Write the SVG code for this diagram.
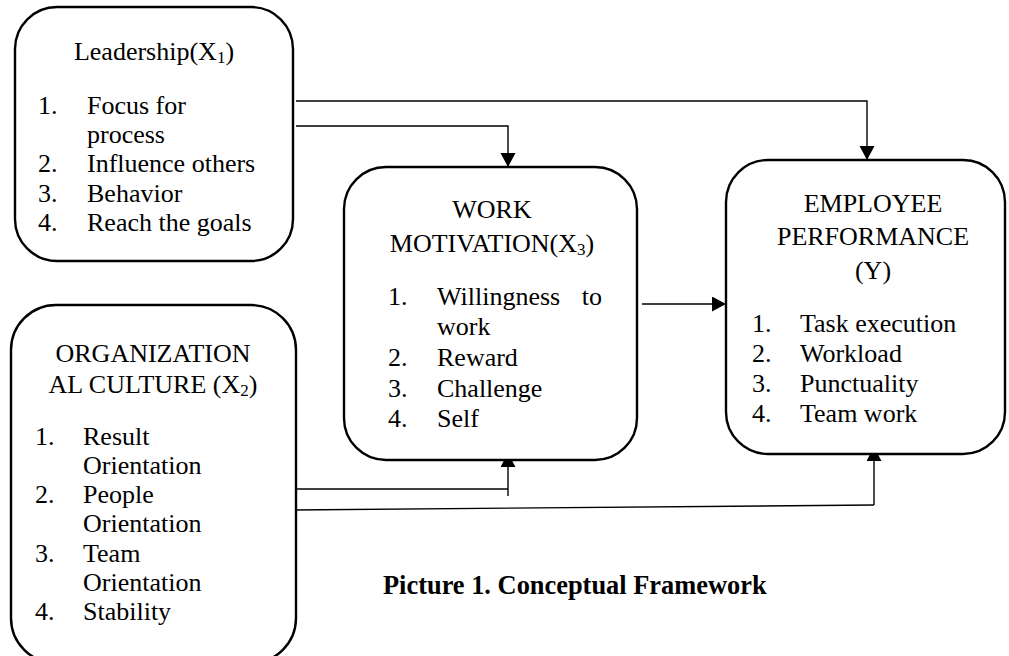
<svg xmlns="http://www.w3.org/2000/svg" width="1009" height="656" viewBox="0 0 1009 656" font-family="'Liberation Serif', 'Times New Roman', serif">
<defs>
<style>
.box{fill:#fff;stroke:#000;stroke-width:2.4}
text{font-family:'Liberation Serif','Times New Roman',serif;font-size:26px;fill:#000}
.c{text-anchor:middle}
.e{text-anchor:end}
.ln{fill:none;stroke:#000;stroke-width:1.4}
.cap{font-size:26.4px;font-weight:bold}
</style>
<marker id="ah" markerUnits="userSpaceOnUse" markerWidth="16" markerHeight="16" refX="14" refY="7.5" orient="auto">
<path d="M0,0 L14,7.5 L0,15 Z" fill="#000"/>
</marker>
<clipPath id="clipL"><rect x="15" y="7" width="278" height="229"/></clipPath>
</defs>
<rect width="1009" height="656" fill="#fff"/>

<g id="connectors">
<path class="ln" d="M296,101 H867 V160" marker-end="url(#ah)"/>
<path class="ln" d="M296,126 H508 V167" marker-end="url(#ah)"/>
<path class="ln" d="M642,304 H726" marker-end="url(#ah)"/>
<path class="ln" d="M297,489 H508"/>
<path class="ln" d="M508,496 V453" marker-end="url(#ah)"/>
<path class="ln" d="M292,510 L874,505"/>
<path class="ln" d="M874,505 V447" marker-end="url(#ah)"/>
</g>

<g id="leadership">
<rect class="box" x="15" y="7" width="278" height="254" rx="42" ry="42"/>
<text class="c" x="154" y="60">Leadership(X<tspan font-size="17" dy="3">1</tspan><tspan dy="-3">)</tspan></text>
<g clip-path="url(#clipL)">
<text x="38" y="114">1.</text><text x="87" y="114">Focus for</text>
<text x="87" y="143">process</text>
<text x="38" y="172">2.</text><text x="87" y="172">Influence others</text>
<text x="38" y="202">3.</text><text x="87" y="202">Behavior</text>
<text x="38" y="231">4.</text><text x="87" y="231">Reach the goals</text>
</g>
</g>

<g id="work-motivation">
<rect class="box" x="344" y="167" width="293" height="293" rx="42" ry="42"/>
<text class="c" x="492" y="218">WORK</text>
<text class="c" x="492" y="252">MOTIVATION(X<tspan font-size="17" dy="3">3</tspan><tspan dy="-3">)</tspan></text>
<text x="388" y="305">1.</text><text x="437" y="305">Willingness</text><text class="e" x="602" y="305">to</text>
<text x="437" y="335">work</text>
<text x="388" y="366">2.</text><text x="437" y="366">Reward</text>
<text x="388" y="397">3.</text><text x="437" y="397">Challenge</text>
<text x="388" y="427">4.</text><text x="437" y="427">Self</text>
</g>

<g id="employee-performance">
<rect class="box" x="726" y="160" width="279" height="294" rx="42" ry="42"/>
<text class="c" x="873" y="212">EMPLOYEE</text>
<text class="c" x="873" y="245">PERFORMANCE</text>
<text class="c" x="873" y="279">(Y)</text>
<text x="752" y="332">1.</text><text x="800" y="332">Task execution</text>
<text x="752" y="362">2.</text><text x="800" y="362">Workload</text>
<text x="752" y="392">3.</text><text x="800" y="392">Punctuality</text>
<text x="752" y="422">4.</text><text x="800" y="422">Team work</text>
</g>

<g id="organizational-culture">
<rect class="box" x="11" y="305" width="285" height="358" rx="45" ry="45"/>
<text class="c" x="153" y="362">ORGANIZATION</text>
<text class="c" x="153" y="393">AL CULTURE (X<tspan font-size="17" dy="3">2</tspan><tspan dy="-3">)</tspan></text>
<text x="35" y="445">1.</text><text x="83" y="445">Result</text>
<text x="83" y="474">Orientation</text>
<text x="35" y="503">2.</text><text x="83" y="503">People</text>
<text x="83" y="532">Orientation</text>
<text x="35" y="562">3.</text><text x="83" y="562">Team</text>
<text x="83" y="591">Orientation</text>
<text x="35" y="620">4.</text><text x="83" y="620">Stability</text>
</g>

<g id="caption">
<text class="cap" x="383" y="594">Picture 1. Conceptual Framework</text>
</g>
</svg>
